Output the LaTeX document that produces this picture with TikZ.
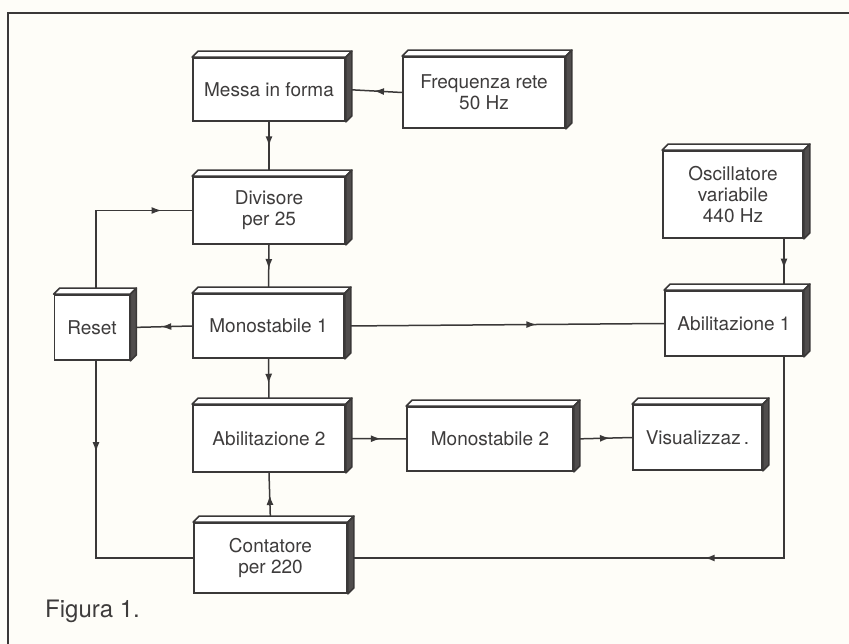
\documentclass[tikz,border=0pt]{standalone}
\usepackage{fontspec}
\setmainfont{TeX Gyre Heros}
\usetikzlibrary{calc,arrows.meta,decorations.markings}
\definecolor{inkc}{RGB}{58,56,56}
\definecolor{txtc}{RGB}{62,60,60}
\definecolor{sidec}{RGB}{80,77,77}
\definecolor{paper}{RGB}{254,253,248}
\tikzset{
  blk/.style={draw=inkc, line width=1.8pt, fill=white, inner sep=0pt, align=center,
    text=txtc, font=\fontsize{19}{21}\selectfont},
  conn/.style={draw=inkc, line width=1.5pt},
  midarr/.style={postaction={decorate}, decoration={markings,
    mark=at position #1 with {\arrow{Latex[length=10pt,width=7pt]}}}},
  midarr/.default=0.55,
  topface/.style={fill=white, draw=inkc, line width=1.5pt, line join=round},
  sideface/.style={fill=sidec, draw=inkc, line width=1.5pt, line join=round}
}
\newcommand\threedbox[1]{%
  \path[topface] (#1.north west) -- ++(6pt,6pt) -- ($(#1.north east)+(6pt,6pt)$) -- (#1.north east) -- cycle;
  \path[sideface] (#1.north east) -- ++(6pt,6pt) -- ($(#1.south east)+(6pt,6pt)$) -- (#1.south east) -- cycle;
}
\begin{document}
\begin{tikzpicture}[x=1pt,y=-1pt]
\fill[paper] (0,0) rectangle (849,644);
\useasboundingbox (0,0) rectangle (849,644);
% frame
\draw[inkc, line width=2.6pt] (8,644) -- (8,13) -- (849,13);
% blocks
\node[blk, minimum width=152pt, minimum height=63pt] (messa) at (269,89.5) {Messa in forma};
\node[blk, minimum width=162pt, minimum height=71pt] (freq) at (484,92.5) {Frequenza rete\\50 Hz};
\node[blk, minimum width=152pt, minimum height=67pt] (div) at (269,210.5) {Divisore\\per 25};
\node[blk, minimum width=140pt, minimum height=87pt] (osc) at (733,194.5) {Oscillatore\\variabile\\440 Hz};
\node[blk, minimum width=75pt, minimum height=65pt] (reset) at (92,327.5) {Reset};
\node[blk, minimum width=151pt, minimum height=64pt] (mono1) at (268.5,326) {Monostabile 1};
\node[blk, minimum width=138pt, minimum height=65pt] (abil1) at (734,323.5) {Abilitazione 1};
\node[blk, minimum width=152pt, minimum height=67pt] (abil2) at (269,438.5) {Abilitazione 2};
\node[blk, minimum width=166pt, minimum height=64pt] (mono2) at (490,439) {Monostabile 2};
\node[blk, minimum width=129pt, minimum height=65pt] (vis) at (697.5,437.5) {Visualizzaz\,.};
\node[blk, minimum width=153pt, minimum height=70pt] (cont) at (270.5,558) {Contatore\\per 220};
\coordinate (rl) at (96,0);
\coordinate (rx) at (784,0);
% connectors
\draw[conn, midarr=0.5] (freq.west) -- (messa.east);
\draw[conn, midarr=0.45] (messa.south) -- (div.north);
\draw[conn, midarr=0.5] (div.south) -- (mono1.north);
\draw[conn, midarr=0.5] (mono1.west) -- (reset.east);
\draw[conn, midarr=0.83] (reset.north -| rl) |- (div.west);
\draw[conn, midarr=0.6] (mono1.east) -- (abil1.west);
\draw[conn, midarr=0.58] (osc.south -| rx) -- (abil1.north -| rx);
\draw[conn, midarr=0.55] (mono1.south) -- (abil2.north);
\draw[conn, midarr=0.58] (abil2.east) -- (mono2.west);
\draw[conn, midarr=0.62] (mono2.east) -- (vis.west);
\draw[conn, midarr=0.55] (cont.north) -- (abil2.south);
\draw[conn, midarr=0.31] (reset.south -| rl) |- (cont.west);
\draw[conn, midarr=0.44] (abil1.south -| rx) |- (cont.east);
% 3D faces
\foreach \n in {messa,freq,div,osc,reset,mono1,abil1,abil2,mono2,vis,cont}{\threedbox{\n}}
% caption
\node[anchor=base west, inner sep=0pt, text=txtc, font=\fontsize{24}{28}\selectfont] (fig) at (45,617) {Figura 1.};
\end{tikzpicture}
\end{document}
